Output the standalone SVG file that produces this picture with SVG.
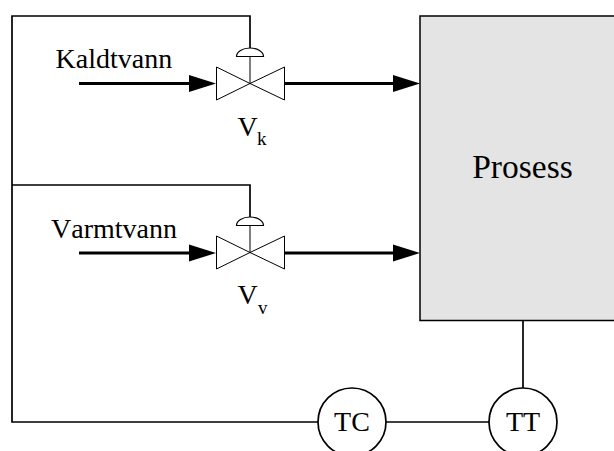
<svg xmlns="http://www.w3.org/2000/svg" width="614" height="451" viewBox="0 0 614 451">
<style>
text{font-family:"Liberation Serif","Times New Roman",serif;fill:#000;font-kerning:none}
.l{font-size:28px}
.s{font-size:19px}
.w{fill:none;stroke:#000;stroke-width:1.700}
.pipe{fill:none;stroke:#000;stroke-width:3}
.v{fill:#fff;stroke:#000;stroke-width:1}
.ar{fill:#000;stroke:none}
</style>
<g id="connectors">
<path class="w" d="M250 48V16H12V422H318"/>
<path class="w" d="M12 185H250V217"/>
<path class="w" d="M386 422H489"/>
<path class="w" d="M523 321V388"/>
<path class="pipe" d="M79 83.500H192"/>
<path class="ar" d="M189 75L216 83.500L189 92Z"/>
<path class="pipe" d="M284 83.500H396"/>
<path class="ar" d="M393 75L420 83.500L393 92Z"/>
<path class="pipe" d="M79 253H192"/>
<path class="ar" d="M189 244.500L216 253L189 261.500Z"/>
<path class="pipe" d="M284 253H396"/>
<path class="ar" d="M393 244.500L420 253L393 261.500Z"/>
</g>
<g id="valve-k">
<path class="v" d="M216.500 67L250 83.500L216.500 100Z"/>
<path class="v" d="M284.500 67L250 83.500L284.500 100Z"/>
<path class="v" d="M250 56V83.500"/>
<path class="v" d="M236.500 56.500A13.500 8.500 0 0 1 263.500 56.500Z" style="stroke-width:1.200"/>
<text class="l" x="237.500" y="136">V</text><text class="s" x="257" y="145">k</text>
</g>
<g id="valve-v">
<path class="v" d="M216.500 236L250 252.500L216.500 269Z"/>
<path class="v" d="M284.500 236L250 252.500L284.500 269Z"/>
<path class="v" d="M250 225V252.500"/>
<path class="v" d="M236.500 225.500A13.500 8.500 0 0 1 263.500 225.500Z" style="stroke-width:1.200"/>
<text class="l" x="237.500" y="304">V</text><text class="s" x="258" y="314">v</text>
</g>
<g id="kaldtvann"><text class="l" x="55.500" y="68">Kaldtvann</text></g>
<g id="varmtvann"><text class="l" x="51" y="238">Varmtvann</text></g>
<g id="prosess">
<rect x="420" y="16" width="210" height="304.500" fill="#e4e4e4" stroke="#000" stroke-width="1.500"/>
<text x="522.500" y="178" text-anchor="middle" style="font-size:33.500px">Prosess</text>
</g>
<g id="tc">
<circle cx="352" cy="422" r="34" fill="#fff" stroke="#000" stroke-width="1.700"/>
<text class="l" x="352" y="431" text-anchor="middle">TC</text>
</g>
<g id="tt">
<circle cx="523" cy="422" r="34" fill="#fff" stroke="#000" stroke-width="1.700"/>
<text class="l" x="523" y="431" text-anchor="middle">TT</text>
</g>
</svg>
